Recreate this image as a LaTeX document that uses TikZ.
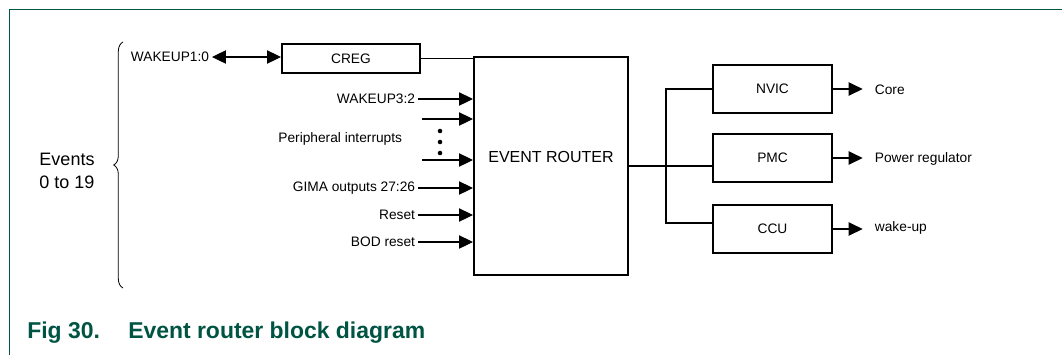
\documentclass[tikz,border=0pt]{standalone}
\usepackage{fontspec}
\setmainfont{Liberation Sans}
\usetikzlibrary{arrows.meta,decorations.pathreplacing}
\definecolor{nxpgreen}{RGB}{0,84,68}
\tikzset{
  block/.style={draw, line width=1.5pt, font=\fontsize{10.3}{12}\selectfont},
  lbl/.style={inner sep=2pt, font=\fontsize{10.3}{12}\selectfont},
  wire/.style={line width=0.8pt},
  arr/.style={wire, -{Triangle[length=10.5pt,width=10pt]}},
  dblarr/.style={wire, {Triangle[length=10.5pt,width=10pt]}-{Triangle[length=10.5pt,width=10pt]}}
}
\begin{document}
\begin{tikzpicture}[x=0.75pt, y=-0.75pt]
      \useasboundingbox (0,0) rectangle (1063,355);
      % Draw the frame
      \draw[nxpgreen, line width=1.2pt] (9.5,355) -- (9.5,9.5) -- (1062,9.5);
      % Place the nodes
      \node[block, minimum width=103.5pt, minimum height=21.75pt] (creg) at (351,58.5) {CREG};
      \node[block, minimum width=115.5pt, minimum height=163.5pt,
            font=\fontsize{12}{14}\selectfont, text depth=14pt] (router) at (551,166) {EVENT ROUTER};
      \node[block, minimum width=89.25pt, minimum height=36pt] (nvic) at (772.5,89) {NVIC};
      \node[block, minimum width=89.25pt, minimum height=36pt] (pmc) at (772.5,158) {PMC};
      \node[block, minimum width=89.25pt, minimum height=36pt] (ccu) at (772.5,229) {CCU};
      % Events brace
      \node[align=center, font=\fontsize{13.5}{17}\selectfont] (events) at (67,171) {Events\\0 to 19};
      \draw[line width=0.6pt, decorate, decoration={brace, amplitude=7pt}] (123,288) -- (123,42);
      % Inputs
      \node[lbl, anchor=west] (wk10) at (128,57) {WAKEUP1:0};
      \node[lbl, anchor=east] (wk32) at (418,99) {WAKEUP3:2};
      \node[lbl, anchor=east] (perint) at (405,139) {Peripheral interrupts};
      \node[lbl, anchor=east] (gima) at (418,188) {GIMA outputs 27:26};
      \node[lbl, anchor=east] (reset) at (418,215) {Reset};
      \node[lbl, anchor=east] (bodreset) at (418,242) {BOD reset};
      \coordinate (pi1) at (422,119);
      \coordinate (pi2) at (422,160);
      % Draw arrows into the router
      \draw[dblarr] (wk10.east) -- (wk10.east -| creg.west);
      \draw[wire] (creg.east) -- (creg.east -| router.west);
      \draw[arr] (wk32.east) -- (wk32.east -| router.west);
      \draw[arr] (pi1) -- (pi1 -| router.west);
      \draw[arr] (pi2) -- (pi2 -| router.west);
      \draw[arr] (gima.east) -- (gima.east -| router.west);
      \draw[arr] (reset.east) -- (reset.east -| router.west);
      \draw[arr] (bodreset.east) -- (bodreset.east -| router.west);
      \foreach \y in {131,142,153}
        \fill (440,\y) circle (1.7pt);
      % Draw the bus to the output blocks
      \draw[wire] (router.east) -- (router.east -| pmc.west);
      \draw[wire] (nvic.west) -- ++(-46,0) |- ([yshift=4.5pt]ccu.west);
      % Outputs
      \node[lbl, anchor=west] (core) at (872,90) {Core};
      \node[lbl, anchor=west] (pwr) at (872,159) {Power regulator};
      \node[lbl, anchor=west] (wake) at (872,228) {wake-up};
      \draw[arr, shorten >=7pt] (nvic.east) -- (nvic.east -| core.west);
      \draw[arr, shorten >=7pt] (pmc.east) -- (pmc.east -| pwr.west);
      \draw[arr, shorten >=7pt] (ccu.east) -- (ccu.east -| wake.west);
      % Caption
      \node[nxpgreen, anchor=base west, inner sep=0pt, font=\fontsize{17.2}{20}\selectfont\bfseries] (fignum) at (27,338) {Fig 30.};
      \node[nxpgreen, anchor=base west, inner sep=0pt, font=\fontsize{17.2}{20}\selectfont\bfseries] (figtitle) at (128,338) {Event router block diagram};
    \end{tikzpicture}
\end{document}
